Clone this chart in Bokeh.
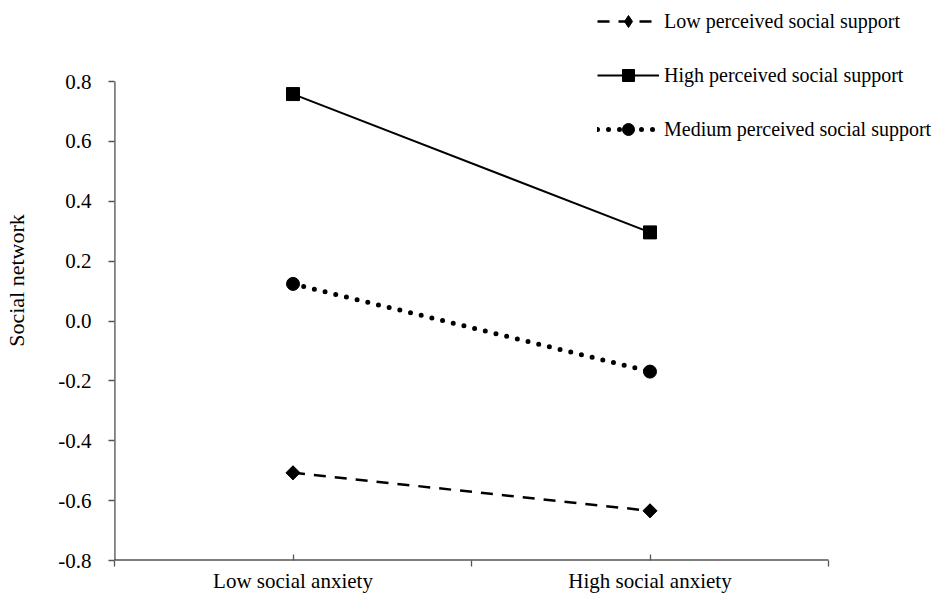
from bokeh.plotting import figure
from bokeh.models import FixedTicker, Range1d, Legend, LegendItem
from bokeh.embed import file_html
from bokeh.resources import INLINE
import numpy as np

categories = ["Low social anxiety", "High social anxiety"]
series_names = ["Low perceived social support", "High perceived social support", "Medium perceived social support"]
low_support = [-0.507, -0.634]
high_support = [0.758, 0.296]
medium_support = [0.124, -0.169]
y_ticks = [-0.8, -0.6, -0.4, -0.2, 0.0, 0.2, 0.4, 0.6, 0.8]
y_tick_labels = ["-0.8", "-0.6", "-0.4", "-0.2", "0.0", "0.2", "0.4", "0.6", "0.8"]
y_axis_label = "Social network"

FONT = "Liberation Serif"

W, H = 933, 595
LEFT, BOTTOM = 114, 35          # border sizes (px)
AXIS_RIGHT_PX = 828              # where the category axis ends
AXIS_TOP_PX = 81                 # where the value axis ends (top)

n = len(categories)
x_pos = [i + 0.5 for i in range(n)]
frame_w = W - LEFT
frame_h = H - BOTTOM
x_end = n * frame_w / (AXIS_RIGHT_PX - LEFT)
y0, y1 = y_ticks[0], y_ticks[-1]
y_end = y1 + AXIS_TOP_PX * (y1 - y0) / (frame_h - AXIS_TOP_PX)

p = figure(width=W, height=H, output_backend="svg", toolbar_location=None,
           x_range=Range1d(0, x_end), y_range=Range1d(y0, y_end),
           min_border_left=LEFT, min_border_right=0, min_border_top=0, min_border_bottom=BOTTOM)
p.outline_line_color = None
p.grid.visible = False
p.background_fill_color = "white"
p.border_fill_color = "white"

# axis lines limited to the data extent
p.segment(x0=[0, 0], y0=[y0, y0], x1=[0, n], y1=[y1, y0], line_color="black", line_width=1.8)

# Low perceived support: dashed with diamonds
r_low_l = p.line(x_pos, low_support, line_color="black", line_width=2.5, line_dash="12 9")
p.scatter(x_pos, low_support, marker="square", angle=np.pi / 4, size=10,
          fill_color="black", line_color="black")
# diamond marker used for the legend (hidden inside the rotated square on the plot)
r_low_m = p.scatter(x_pos, low_support, marker="diamond", size=13,
                    fill_color="black", line_color="black")
# High perceived support: solid with squares
r_high_l = p.line(x_pos, high_support, line_color="black", line_width=2)
r_high_m = p.scatter(x_pos, high_support, marker="square", size=13,
                     fill_color="black", line_color="black")
# Medium perceived support: dotted with circles
r_med_l = p.line(x_pos, medium_support, line_color="black", line_width=5,
                 line_dash="0 11", line_cap="round")
r_med_m = p.scatter(x_pos, medium_support, marker="circle", size=13,
                    fill_color="black", line_color="black")

# Axes
xa = p.xaxis[0]
xa.ticker = FixedTicker(ticks=x_pos, minor_ticks=[float(i) for i in range(n + 1)])
xa.major_label_overrides = {x: c for x, c in zip(x_pos, categories)}
xa.major_tick_in = 6
xa.major_tick_out = 0
xa.minor_tick_in = 0
xa.minor_tick_out = 6
xa.major_label_standoff = 2

ya = p.yaxis[0]
ya.ticker = FixedTicker(ticks=y_ticks, minor_ticks=[])
ya.major_label_overrides = {t: l for t, l in zip(y_ticks, y_tick_labels)}
ya.major_tick_in = 0
ya.major_tick_out = 6
ya.minor_tick_in = 0
ya.minor_tick_out = 0
ya.major_label_standoff = 17
ya.axis_label = y_axis_label
ya.axis_label_standoff = 26
ya.axis_label_text_font = FONT
ya.axis_label_text_font_size = "22px"
ya.axis_label_text_font_style = "normal"
ya.axis_label_text_color = "black"

for ax in (xa, ya):
    ax.axis_line_color = None
    ax.major_tick_line_color = "#555555"
    ax.major_tick_line_width = 1.3
    ax.minor_tick_line_color = "#555555"
    ax.minor_tick_line_width = 1.3
    ax.major_label_text_font = FONT
    ax.major_label_text_font_size = "21px"
    ax.major_label_text_color = "black"

# legend in the upper right, rows centred near y = 21, 75, 128 px
LEG_LEFT_PX = 597
ROW_H, GAP = 30, 24
leg_top = 21 - ROW_H / 2
leg_bottom = leg_top + 3 * ROW_H + 2 * GAP
legend = Legend(items=[
    LegendItem(label=series_names[0], renderers=[r_low_l, r_low_m]),
    LegendItem(label=series_names[1], renderers=[r_high_l, r_high_m]),
    LegendItem(label=series_names[2], renderers=[r_med_l, r_med_m]),
], location=(LEG_LEFT_PX - LEFT, frame_h - leg_bottom), orientation="vertical")
legend.glyph_width = 62
legend.glyph_height = ROW_H
legend.label_height = ROW_H
legend.label_standoff = 5
legend.spacing = GAP
legend.padding = 0
legend.margin = 0
legend.border_line_color = None
legend.background_fill_alpha = 0
legend.label_text_font = FONT
legend.label_text_font_size = "20px"
legend.label_text_color = "black"
p.add_layout(legend, "center")

open("out.html", "w").write(file_html(p, INLINE))
